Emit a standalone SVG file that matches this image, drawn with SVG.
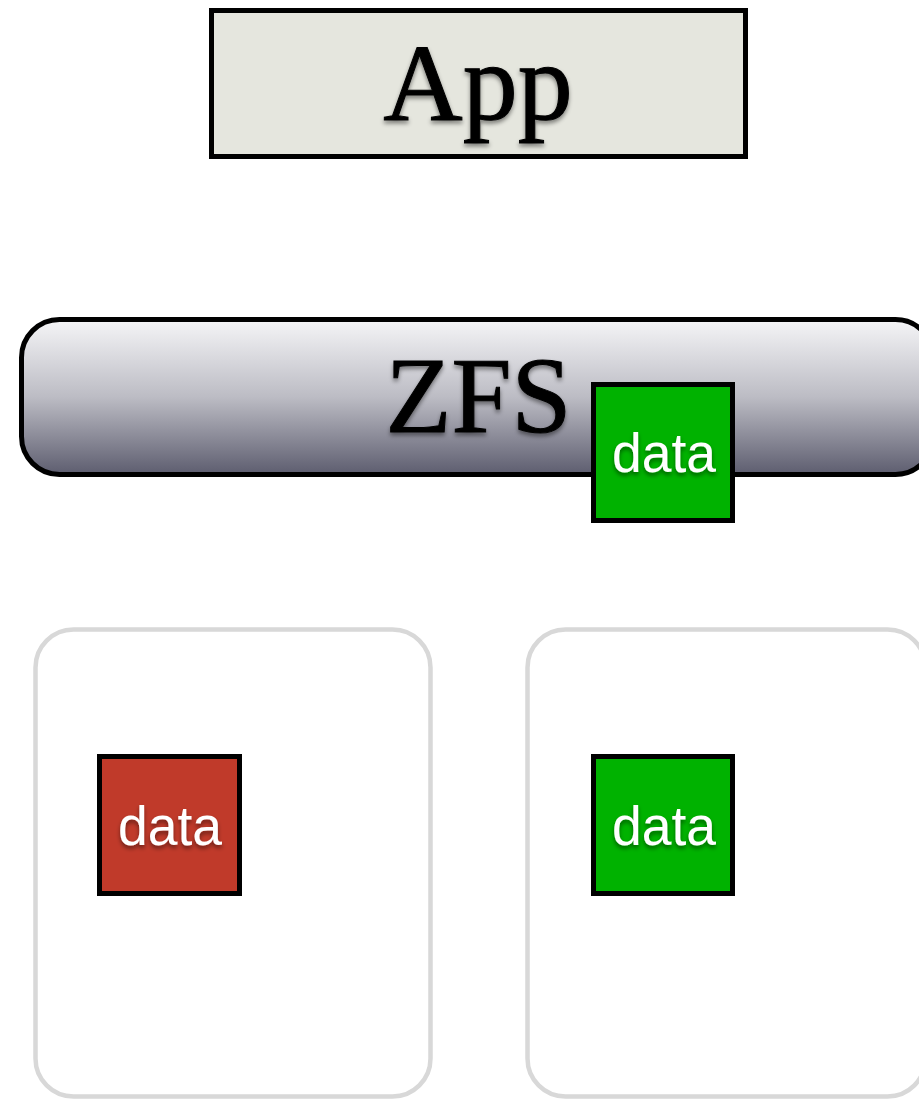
<svg xmlns="http://www.w3.org/2000/svg" width="919" height="1099" viewBox="0 0 919 1099">
  <defs>
    <linearGradient id="zfsFill" x1="0" y1="0" x2="0" y2="1">
      <stop offset="0" stop-color="#f5f5f7"/>
      <stop offset="0.5" stop-color="#bcbcc4"/>
      <stop offset="1" stop-color="#5d5d6f"/>
    </linearGradient>
    <filter id="textShadow" x="-20%" y="-20%" width="140%" height="150%">
      <feDropShadow dx="0" dy="3" stdDeviation="2.2" flood-color="#000" flood-opacity="0.45"/>
    </filter>
  </defs>
  <style>
    .serif { font-family: "Liberation Serif", "Times New Roman", serif; fill: #000; stroke: #000; stroke-width: 1; text-anchor: middle; filter: url(#textShadow); }
    .block { stroke: #000; stroke-width: 5; }
    .green { fill: #00b200; }
    .red { fill: #c03a2a; }
    .label { font-family: "Liberation Sans", Arial, sans-serif; font-size: 55px; fill: #fff; text-anchor: middle; filter: url(#textShadow); }
    .disk { fill: #fff; stroke: #d8d8d8; stroke-width: 4.5; }
  </style>
  <rect width="919" height="1099" fill="#fff"/>

  <!-- application layer -->
  <g id="app">
    <rect x="211.5" y="10.5" width="534" height="146" fill="#e5e6de" stroke="#000" stroke-width="5"/>
    <text class="serif" x="478" y="120" font-size="110">App</text>
  </g>

  <!-- file system layer -->
  <g id="zfs">
    <rect x="21.5" y="319.5" width="912" height="155" rx="38" ry="38" fill="url(#zfsFill)" stroke="#000" stroke-width="5"/>
    <text class="serif" x="478.5" y="432" font-size="108" stroke-width="1.6">ZFS</text>
  </g>

  <!-- block held by the file system -->
  <g id="zfs-data">
    <rect class="block green" x="593.5" y="384.5" width="139" height="136"/>
    <text class="label" x="664" y="472" textLength="104" lengthAdjust="spacingAndGlyphs">data</text>
  </g>

  <!-- disks -->
  <g id="disk-left">
    <rect class="disk" x="35.5" y="629.5" width="395" height="467" rx="38" ry="38"/>
  </g>
  <g id="disk-right">
    <rect class="disk" x="527.5" y="629.5" width="398" height="467" rx="38" ry="38"/>
  </g>

  <g id="disk-left-data">
    <rect class="block red" x="99.5" y="756.5" width="140" height="137"/>
    <text class="label" x="170" y="845" textLength="104" lengthAdjust="spacingAndGlyphs">data</text>
  </g>
  <g id="disk-right-data">
    <rect class="block green" x="593.5" y="756.5" width="139" height="137"/>
    <text class="label" x="664" y="845" textLength="104" lengthAdjust="spacingAndGlyphs">data</text>
  </g>

  <g id="connectors"/>
</svg>
